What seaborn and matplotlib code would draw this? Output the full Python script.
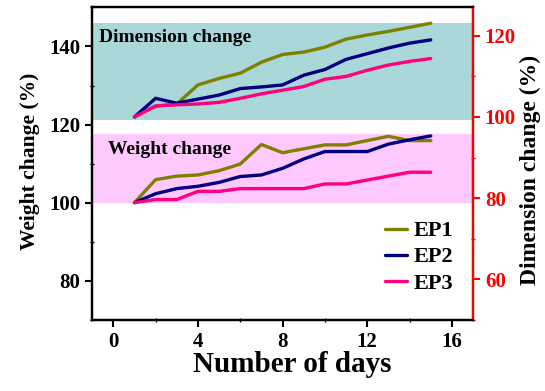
import matplotlib
matplotlib.use("Agg")
import matplotlib.pyplot as plt
import seaborn as sns
import pandas as pd
from matplotlib.ticker import MultipleLocator

days = list(range(1, 16))
series_names = ["EP1", "EP2", "EP3"]

weight_ep1 = [100.0, 105.9, 106.8, 107.1, 108.2, 109.9, 114.9, 112.8, 113.8, 114.8, 114.8, 115.9, 117.0, 115.9, 115.9]
weight_ep2 = [100.0, 102.3, 103.6, 104.2, 105.2, 106.7, 107.1, 108.8, 111.2, 113.1, 113.1, 113.1, 115.0, 116.1, 117.1]
weight_ep3 = [100.0, 100.8, 100.8, 102.9, 102.9, 103.6, 103.6, 103.6, 103.6, 104.8, 104.8, 105.8, 106.8, 107.8, 107.8]

dim_ep1 = [100.0, 102.7, 103.2, 107.9, 109.5, 110.8, 113.5, 115.4, 116.0, 117.2, 119.2, 120.2, 121.1, 122.1, 123.1]
dim_ep2 = [100.0, 104.6, 103.4, 104.4, 105.4, 107.0, 107.4, 107.9, 110.3, 111.7, 114.2, 115.6, 117.0, 118.2, 119.0]
dim_ep3 = [100.0, 102.7, 103.0, 103.2, 103.6, 104.6, 105.7, 106.6, 107.5, 109.3, 110.0, 111.5, 112.8, 113.7, 114.4]

colors = {"EP1": "#808000", "EP2": "#000080", "EP3": "#ff0080"}

def long_df(vals):
    rows = []
    for name, v in zip(series_names, vals):
        for d, y in zip(days, v):
            rows.append({"day": d, "value": y, "series": name})
    return pd.DataFrame(rows)

df_w = long_df([weight_ep1, weight_ep2, weight_ep3])
df_d = long_df([dim_ep1, dim_ep2, dim_ep3])

sns.set_style("ticks")
plt.rcParams["font.family"] = ["Liberation Serif", "DejaVu Serif"]
plt.rcParams["font.weight"] = "bold"
plt.rcParams["axes.labelweight"] = "bold"
plt.rcParams["text.color"] = "black"
plt.rcParams["axes.labelcolor"] = "black"
plt.rcParams["xtick.color"] = "black"
plt.rcParams["ytick.color"] = "black"
plt.rcParams["axes.edgecolor"] = "black"

fig = plt.figure(figsize=(5.45, 3.91), dpi=100)
ax = fig.add_axes([0.169, 0.182, 0.699, 0.799])

ax.axhspan(121.3, 146.0, color="#aad7d7", zorder=0, lw=0)
ax.axhspan(100.0, 117.7, color="#ffc8ff", zorder=0, lw=0)

sns.lineplot(data=df_w, x="day", y="value", hue="series", palette=colors,
             linewidth=2.4, ax=ax, zorder=3)
ax2 = ax.twinx()
sns.lineplot(data=df_d, x="day", y="value", hue="series", palette=colors,
             linewidth=2.4, ax=ax2, legend=False, zorder=3)

ax.set_xlim(-1, 17)
ax.set_ylim(70, 150)
ax2.set_ylim(50, 127)

ax.xaxis.set_major_locator(MultipleLocator(4))
ax.xaxis.set_minor_locator(MultipleLocator(2))
ax.yaxis.set_major_locator(MultipleLocator(20))
ax.yaxis.set_minor_locator(MultipleLocator(10))
ax2.yaxis.set_major_locator(MultipleLocator(20))
ax2.yaxis.set_minor_locator(MultipleLocator(10))

for a in (ax, ax2):
    for s in a.spines.values():
        s.set_linewidth(1.6)
        s.set_color("black")
ax2.spines["right"].set_color("red")

ax.tick_params(axis="both", which="major", direction="out", length=5, width=1.5,
               labelsize=15, colors="black")
ax.tick_params(axis="both", which="minor", direction="inout", length=3, width=1.0, colors="black")
ax.tick_params(axis="x", which="both", top=False, labeltop=False)
ax2.tick_params(axis="y", which="major", direction="out", length=5, width=1.5,
                labelsize=15, colors="red")
ax2.tick_params(axis="y", which="minor", direction="inout", length=3, width=1.0, colors="red")
for lab in ax.get_xticklabels() + ax.get_yticklabels() + ax2.get_yticklabels():
    lab.set_fontweight("bold")

ax.set_xlabel("Number of days", fontsize=21, fontweight="bold", color="black")
ax.set_ylabel("Weight change (%)", fontsize=15.5, fontweight="bold", color="black")
ax2.set_ylabel("Dimension change (%)", fontsize=17, fontweight="bold", color="black")
ax.xaxis.set_label_coords(0.526, -0.10)
ax.yaxis.set_label_coords(-0.164, 0.507)
ax2.yaxis.set_label_coords(1.15, 0.48)
ax.xaxis.label.set_va("top")
ax.yaxis.label.set_va("center")
ax2.yaxis.label.set_va("center")

ax.text(-0.66, 142.4, "Dimension change", fontsize=14, fontweight="bold",
        va="center", ha="left", zorder=4, color="black")
ax.text(-0.24, 113.5, "Weight change", fontsize=14, fontweight="bold",
        va="center", ha="left", zorder=4, color="black")

leg = ax.legend(loc="lower right", bbox_to_anchor=(1.0, 0.02), frameon=False,
                fontsize=16, handlelength=1.0, handletextpad=0.3, labelspacing=0.25,
                title=None)
for t in leg.get_texts():
    t.set_fontweight("bold")
    t.set_color("black")

fig.savefig("out.png", dpi=100)
